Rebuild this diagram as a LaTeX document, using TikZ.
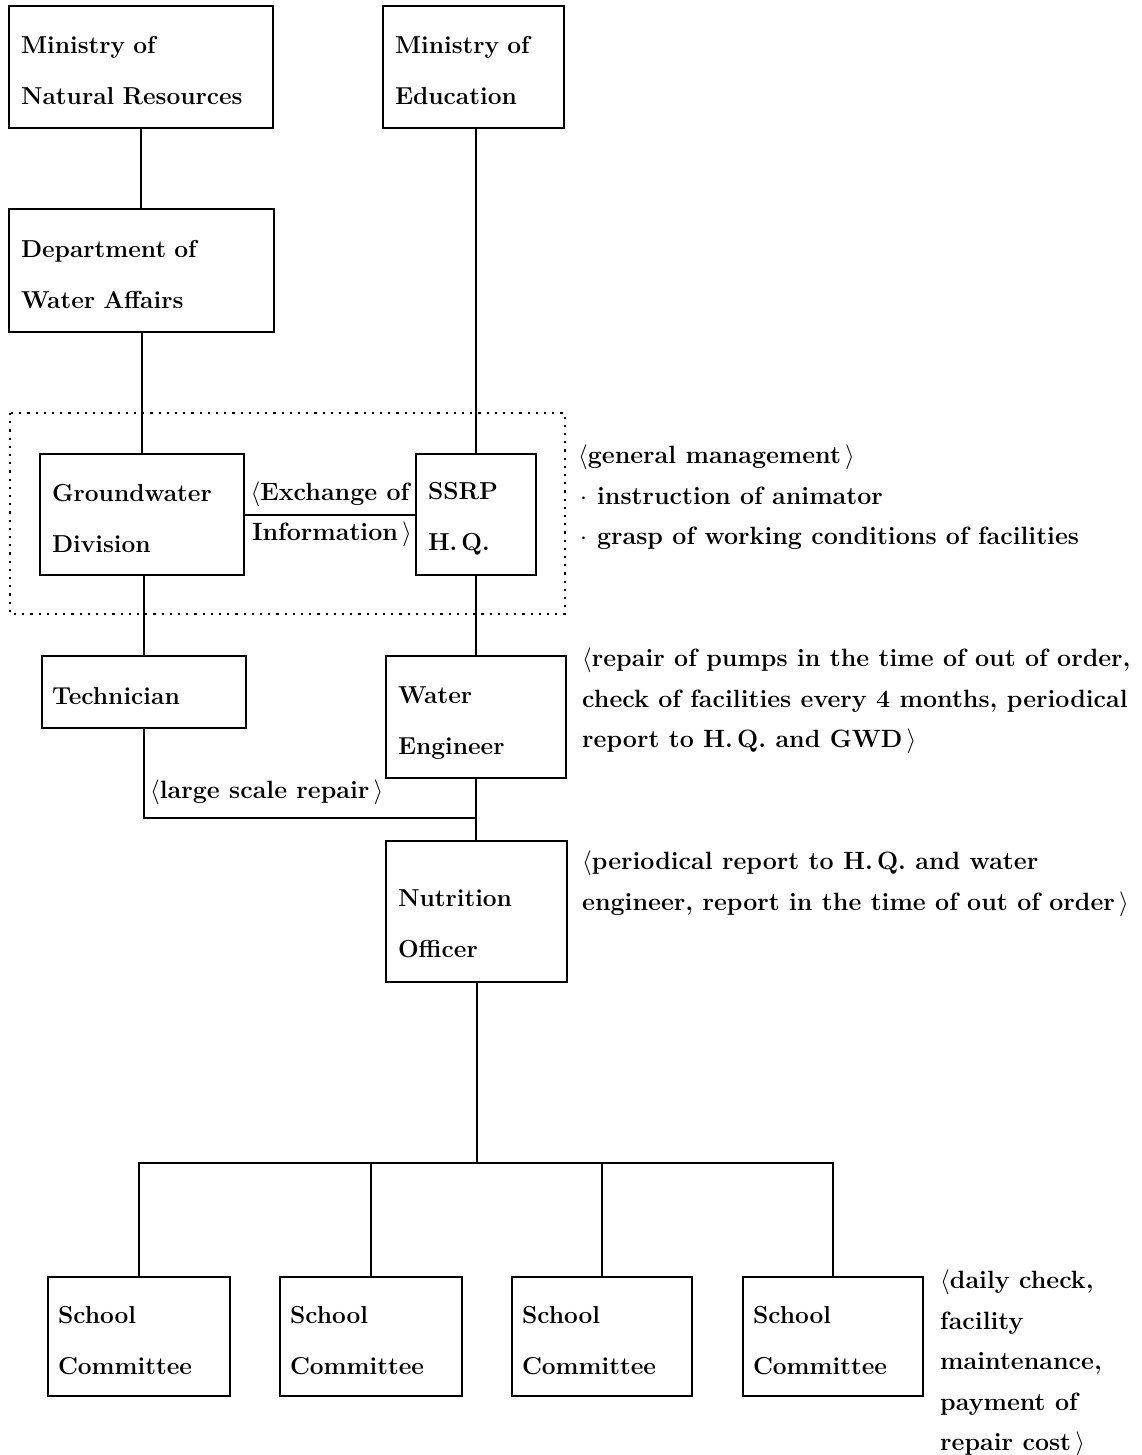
\documentclass[tikz,border=0pt]{standalone}
\usepackage{fontspec}
\newcommand\boxfont{\fontsize{24.5}{51}\selectfont\bfseries}
\newcommand\notefont{\fontsize{25}{40.5}\selectfont\bfseries}
\newcommand\lb{$\langle$}
\newcommand\rb{$\rangle$}
\newcommand\bul{\hspace{2pt}$\cdot$\hspace{10pt}}
% strut that pushes a box's text block a little below the centre
\newcommand\lift[1]{\rule{0pt}{#1pt}}
\tikzset{
  unitbox/.style={draw, line width=2pt, anchor=north west, align=left,
    inner xsep=12pt, inner ysep=0pt, font=\boxfont},
  link/.style={line width=2pt},
  note/.style={anchor=north west, inner sep=0pt, align=left, font=\notefont},
  label/.style={font=\notefont, inner sep=0pt},
  group/.style={line width=2.2pt, dash pattern=on 2.2pt off 6pt},
}
\begin{document}
\begin{tikzpicture}[x=1pt,y=-1pt]
\useasboundingbox (0,0) rectangle (1141,1455);

% ministries and departments
\node[unitbox, minimum width=264pt, minimum height=122pt, text width=240pt] (mnr) at (8,5) {\lift{25}Ministry of\\Natural Resources};
\node[unitbox, minimum width=181pt, minimum height=122pt, text width=157pt] (moe) at (382,5) {\lift{25}Ministry of\\Education};
\node[unitbox, minimum width=265pt, minimum height=123pt, text width=241pt] (dwa) at (8,208) {\lift{25}Department of\\Water Affairs};

% coordination group
\draw[group] (10,413) rectangle (565,614);
\node[unitbox, minimum width=204pt, minimum height=121pt, text width=180pt] (gwd) at (39,453) {\lift{25}Groundwater\\Division};
\node[unitbox, minimum width=120pt, minimum height=121pt, text width=96pt] (hq) at (415,453) {\lift{25}SSRP\\H.\,Q.};

% field staff
\node[unitbox, minimum width=204pt, minimum height=72pt, text width=184pt, inner xsep=10pt] (tech) at (41,655) {\lift{25}Technician};
\node[unitbox, minimum width=180pt, minimum height=122pt, text width=156pt] (weng) at (385,655) {\lift{29}Water\\Engineer};
\node[unitbox, minimum width=181pt, minimum height=141pt, text width=157pt] (nut) at (385,840) {\lift{42}Nutrition\\Officer};

% schools
\node[unitbox, minimum width=182pt, minimum height=119pt, text width=162pt, inner xsep=10pt] (sc1) at (47,1276) {\lift{25}School\\Committee};
\node[unitbox, minimum width=182pt, minimum height=119pt, text width=162pt, inner xsep=10pt] (sc2) at (279,1276) {\lift{25}School\\Committee};
\node[unitbox, minimum width=180pt, minimum height=119pt, text width=160pt, inner xsep=10pt] (sc3) at (511,1276) {\lift{25}School\\Committee};
\node[unitbox, minimum width=180pt, minimum height=119pt, text width=160pt, inner xsep=10pt] (sc4) at (742,1276) {\lift{25}School\\Committee};

% connectors
\draw[link] (mnr.south) -- (mnr.south |- dwa.north);
\draw[link] (gwd.north) -- (gwd.north |- dwa.south);
\draw[link] (hq.north) -- (hq.north |- moe.south);
\draw[link] (gwd.east) -- (gwd.east -| hq.west);
\draw[link] (tech.north) -- (tech.north |- gwd.south);
\draw[link] (hq.south) -- (hq.south |- weng.north);
\coordinate (repy) at (0,818);
\draw[link] (tech.south) |- (weng.south |- repy);
\draw[link] (weng.south) -- (weng.south |- nut.north);
\coordinate (busy) at (0,1163);
\draw[link] (nut.south) -- (nut.south |- busy);
\draw[link] (sc1.north) |- (sc4.north |- busy) -- (sc4.north);
\draw[link] (sc2.north) -- (sc2.north |- busy);
\draw[link] (sc3.north) -- (sc3.north |- busy);

% connector labels
\node[label, anchor=base] (exa) at (330,500) {\lb Exchange of};
\node[label, anchor=base] (exb) at (332,540) {Information\,\rb};
\node[label, anchor=base west] (lsr) at (150,798) {\lb large scale repair\,\rb};

% duties
\node[note] (n1) at (578,445) {\lb general management\,\rb\\\bul instruction of animator\\\bul grasp of working conditions of facilities};
\node[note] (n2) at (582,648) {\lb repair of pumps in the time of out of order,\\check of facilities every 4 months, periodical\\report to H.\,Q. and GWD\,\rb};
\node[note] (n3) at (582,851) {\lb periodical report to H.\,Q. and water\\engineer, report in the time of out of order\,\rb};
\node[note] (n4) at (940,1270) {\lb daily check,\\facility\\maintenance,\\payment of\\repair cost\,\rb};
\end{tikzpicture}
\end{document}
